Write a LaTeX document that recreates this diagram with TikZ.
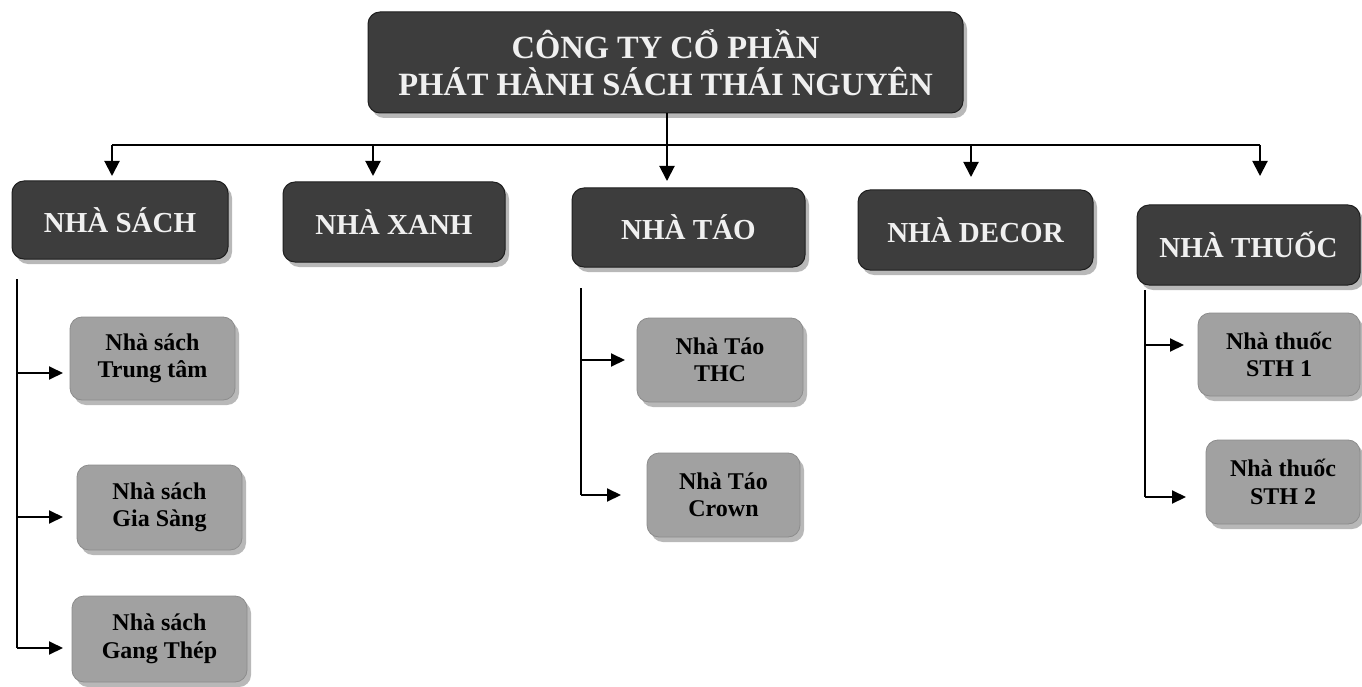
\documentclass[tikz,border=0pt]{standalone}
\usepackage{fontspec}
\setmainfont{Liberation Serif}
\usetikzlibrary{arrows.meta,shadows}
\begin{document}
\begin{tikzpicture}[x=1pt,y=-1pt,
  shad/.style={drop shadow={shadow xshift=4pt,shadow yshift=-5pt,fill=black!28,opacity=1}},
  darkbox/.style={shad,draw=black!88,line width=1pt,fill=black!76,rounded corners=12pt,
    text=white!94!black,align=center,inner sep=0pt,font=\fontsize{29}{34}\selectfont\bfseries},
  topbox/.style={darkbox,font=\fontsize{32.5}{37}\selectfont\bfseries},
  subbox/.style={shad,draw=black!45,line width=0.8pt,fill=black!37,rounded corners=12pt,
    text=black,align=center,inner sep=0pt,font=\fontsize{24}{27.5}\selectfont\bfseries},
  conn/.style={line width=2pt,black},
  arr/.style={conn,-{Triangle[length=15pt,width=15pt]}},
  arrs/.style={conn,-{Triangle[length=14pt,width=13pt]}}
]
\useasboundingbox (0,0) rectangle (1362,687);
\fill[white] (0,0) rectangle (1362,687);

% top
\node[topbox,minimum width=595,minimum height=101] (top) at (665.5,62.5)
  {CÔNG TY CỔ PHẦN\\PHÁT HÀNH SÁCH THÁI NGUYÊN};

% level 1
\node[darkbox,minimum width=216,minimum height=78] (sach)  at (120,220) {NHÀ SÁCH};
\node[darkbox,minimum width=222,minimum height=80] (xanh)  at (394,222) {NHÀ XANH};
\node[darkbox,minimum width=233,minimum height=79] (tao)   at (688.5,227.5) {NHÀ TÁO};
\node[darkbox,minimum width=235,minimum height=80] (decor) at (975.5,230) {NHÀ DECOR};
\node[darkbox,minimum width=223,minimum height=80] (thuoc) at (1248.5,245) {NHÀ THUỐC};

% level 2
\node[subbox,minimum width=165,minimum height=83] (tt)   at (152.5,358.5) {Nhà sách\\Trung tâm};
\node[subbox,minimum width=165,minimum height=85] (gs)   at (159.5,507.5) {Nhà sách\\Gia Sàng};
\node[subbox,minimum width=175,minimum height=86] (gt)   at (159.5,639) {Nhà sách\\Gang Thép};
\node[subbox,minimum width=166,minimum height=84] (thc)  at (720,360) {Nhà Táo\\THC};
\node[subbox,minimum width=153,minimum height=84] (crown) at (723.5,495) {Nhà Táo\\Crown};
\node[subbox,minimum width=162,minimum height=83] (sth1) at (1279,354.5) {Nhà thuốc\\STH 1};
\node[subbox,minimum width=154,minimum height=84] (sth2) at (1283,482) {Nhà thuốc\\STH 2};

% bus and arrows to level 1
\coordinate (bus) at (0,145);
\coordinate (a1) at (112,176);
\coordinate (a2) at (373,176);
\coordinate (a3) at (667,181);
\coordinate (a4) at (971,177);
\coordinate (a5) at (1260,176);
\draw[conn] (a1 |- bus) -- (a5 |- bus);
\draw[arr] (top.south -| a3) -- (a3);
\draw[arr] (a1 |- bus) -- (a1);
\draw[arr] (a2 |- bus) -- (a2);
\draw[arr] (a4 |- bus) -- (a4);
\draw[arr] (a5 |- bus) -- (a5);

% branch NHÀ SÁCH
\coordinate (s0) at (17,279);
\coordinate (s1) at (63,373);
\coordinate (s2) at (63,517);
\coordinate (s3) at (63,648);
\draw[conn] (s0) -- (s0 |- s3);
\draw[arrs] (s0 |- s1) -- (s1);
\draw[arrs] (s0 |- s2) -- (s2);
\draw[arrs] (s0 |- s3) -- (s3);

% branch NHÀ TÁO
\coordinate (t0) at (581,288);
\coordinate (t1) at (625,360);
\coordinate (t2) at (621,495);
\draw[conn] (t0) -- (t0 |- t2);
\draw[arrs] (t0 |- t1) -- (t1);
\draw[arrs] (t0 |- t2) -- (t2);

% branch NHÀ THUỐC
\coordinate (h0) at (1145,290);
\coordinate (h1) at (1184,345);
\coordinate (h2) at (1186,497);
\draw[conn] (h0) -- (h0 |- h2);
\draw[arrs] (h0 |- h1) -- (h1);
\draw[arrs] (h0 |- h2) -- (h2);
\end{tikzpicture}
\end{document}
